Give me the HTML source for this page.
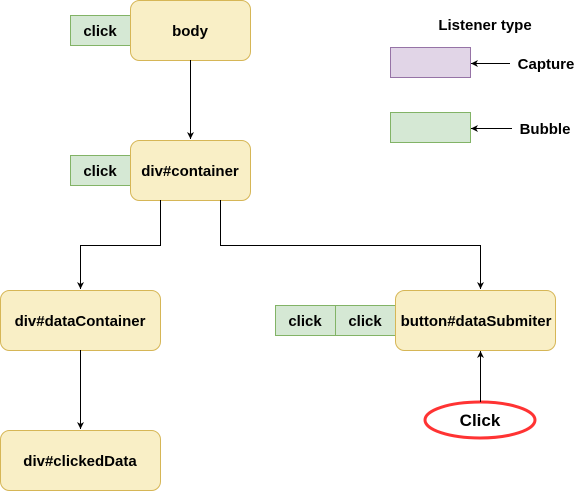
<html><head><style>body{margin:0;background:#fff}</style></head><body>
<svg width="581" height="491" xmlns="http://www.w3.org/2000/svg" font-family="Liberation Sans, sans-serif" font-weight="bold" font-size="15">
<defs><marker id="a" markerWidth="8" markerHeight="8" refX="7" refY="4" orient="auto" markerUnits="userSpaceOnUse"><path d="M0,0.5 L7,4 L0,7.5 L2,4 z" fill="#000"/></marker></defs>
<g fill="#d5e8d4" stroke="#82b366">
<rect x="70.5" y="15.5" width="60" height="30"/><rect x="70.5" y="155.5" width="60" height="30"/>
<rect x="275.5" y="305.5" width="60" height="30"/><rect x="335.5" y="305.5" width="60" height="30"/>
<rect x="390.5" y="112.5" width="80" height="30"/></g>
<rect x="390.5" y="47.5" width="80" height="30" fill="#e1d5e7" stroke="#9673a6"/>
<g fill="#fff2cc" stroke="#d6b656" style="fill:#f9efc6">
<rect x="130.5" y="0.5" width="120" height="60" rx="9"/><rect x="130.5" y="140.5" width="120" height="60" rx="9"/>
<rect x="0.5" y="290.5" width="160" height="60" rx="9"/><rect x="395.5" y="290.5" width="160" height="60" rx="9"/>
<rect x="0.5" y="430.5" width="160" height="60" rx="9"/></g>
<ellipse cx="480" cy="420" rx="55" ry="18" fill="#fff" stroke="#f33" stroke-width="3"/>
<g stroke="#000" fill="none" marker-end="url(#a)">
<path d="M190.5 60V139"/><path d="M160.5 200V245.5H80.5V289"/><path d="M220.5 200V245.5H480.5V289"/>
<path d="M80.5 350V429"/><path d="M480.5 402V351"/><path d="M510 63.5H471"/><path d="M512 128.5H471"/></g>
<g text-anchor="middle" fill="#000">
<text x="100" y="36">click</text><text x="100" y="176">click</text>
<text x="305" y="326">click</text><text x="365" y="326">click</text>
<text x="190" y="36">body</text><text x="190" y="176">div#container</text>
<text x="80" y="326">div#dataContainer</text><text x="476" y="326">button#dataSubmiter</text>
<text x="80" y="466">div#clickedData</text><text x="480" y="426" font-size="17">Click</text>
<text x="485" y="30">Listener type</text><text x="546" y="69">Capture</text><text x="545" y="134">Bubble</text></g>
</svg></body></html>
